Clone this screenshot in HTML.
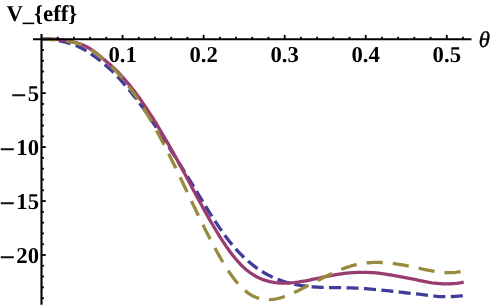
<!DOCTYPE html>
<html>
<head>
<meta charset="utf-8">
<title>V_eff plot</title>
<style>
html,body{margin:0;padding:0;background:#fff;}
body{width:491px;height:306px;overflow:hidden;}
svg{display:block;will-change:transform;}
.m{font-weight:normal;font-size:26.5px;stroke:#000;stroke-width:0.55px;}
text{text-rendering:geometricPrecision;font-family:"Liberation Serif",serif;font-weight:bold;font-size:22.7px;fill:#000;}
</style>
</head>
<body>
<svg width="491" height="306" viewBox="0 0 491 306">
<rect width="491" height="306" fill="#fff"/>
<g fill="none" stroke-width="3.3" stroke-linecap="butt" stroke-linejoin="round">
<path stroke="#3f3d99" stroke-dasharray="12.1 5.35" d="M41.50 39.20 L44.16 39.20 L46.81 39.29 L49.47 39.46 L52.12 39.72 L54.78 40.07 L57.43 40.50 L60.09 41.00 L62.74 41.57 L65.40 42.21 L68.05 42.91 L70.71 43.68 L73.36 44.55 L76.02 45.54 L78.67 46.67 L81.33 47.97 L83.99 49.43 L86.64 51.04 L89.30 52.77 L91.95 54.60 L94.61 56.52 L97.26 58.50 L99.92 60.56 L102.57 62.69 L105.23 64.91 L107.88 67.23 L110.54 69.65 L113.19 72.18 L115.85 74.83 L118.51 77.61 L121.16 80.55 L123.82 83.62 L126.47 86.81 L129.13 90.05 L131.78 93.32 L134.44 96.61 L137.09 99.98 L139.75 103.45 L142.40 107.06 L145.06 110.79 L147.71 114.61 L150.37 118.52 L153.02 122.48 L155.68 126.50 L158.34 130.56 L160.99 134.65 L163.65 138.78 L166.30 142.92 L168.96 147.08 L171.61 151.25 L174.27 155.43 L176.92 159.62 L179.58 163.83 L182.23 168.06 L184.89 172.31 L187.54 176.59 L190.20 180.90 L192.85 185.25 L195.51 189.61 L198.17 193.99 L200.82 198.36 L203.48 202.72 L206.13 207.04 L208.79 211.31 L211.44 215.53 L214.10 219.67 L216.75 223.72 L219.41 227.67 L222.06 231.50 L224.72 235.20 L227.37 238.75 L230.03 242.15 L232.68 245.38 L235.34 248.46 L238.00 251.38 L240.65 254.15 L243.31 256.77 L245.96 259.26 L248.62 261.60 L251.27 263.81 L253.93 265.89 L256.58 267.85 L259.24 269.68 L261.89 271.39 L264.55 272.99 L267.20 274.48 L269.86 275.86 L272.52 277.14 L275.17 278.32 L277.83 279.41 L280.48 280.41 L283.14 281.32 L285.79 282.15 L288.45 282.91 L291.10 283.58 L293.76 284.19 L296.41 284.73 L299.07 285.21 L301.72 285.64 L304.38 286.00 L307.03 286.32 L309.69 286.59 L312.35 286.82 L315.00 287.02 L317.66 287.17 L320.31 287.30 L322.97 287.40 L325.62 287.48 L328.28 287.55 L330.93 287.59 L333.59 287.63 L336.24 287.66 L338.90 287.69 L341.55 287.73 L344.21 287.77 L346.86 287.81 L349.52 287.88 L352.18 287.96 L354.83 288.06 L357.49 288.19 L360.14 288.33 L362.80 288.50 L365.45 288.68 L368.11 288.88 L370.76 289.10 L373.42 289.33 L376.07 289.58 L378.73 289.83 L381.38 290.10 L384.04 290.38 L386.69 290.66 L389.35 290.95 L392.01 291.25 L394.66 291.54 L397.32 291.84 L399.97 292.15 L402.63 292.45 L405.28 292.75 L407.94 293.04 L410.59 293.34 L413.25 293.62 L415.90 293.91 L418.56 294.19 L421.21 294.48 L423.87 294.77 L426.53 295.09 L429.18 295.42 L431.84 295.76 L434.49 296.09 L437.15 296.37 L439.80 296.57 L442.46 296.67 L445.11 296.68 L447.77 296.64 L450.42 296.56 L453.08 296.48 L455.73 296.37 L458.39 296.19 L461.04 295.96 L463.70 295.78"/>
<path stroke="#993d71" d="M41.50 39.20 L44.16 39.06 L46.81 38.99 L49.47 38.98 L52.12 39.04 L54.78 39.18 L57.43 39.39 L60.09 39.68 L62.74 40.03 L65.40 40.45 L68.05 40.93 L70.71 41.46 L73.36 42.05 L76.02 42.71 L78.67 43.47 L81.33 44.37 L83.99 45.45 L86.64 46.74 L89.30 48.24 L91.95 49.94 L94.61 51.83 L97.26 53.86 L99.92 56.00 L102.57 58.19 L105.23 60.43 L107.88 62.69 L110.54 65.02 L113.19 67.44 L115.85 70.00 L118.51 72.70 L121.16 75.53 L123.82 78.46 L126.47 81.50 L129.13 84.65 L131.78 87.93 L134.44 91.34 L137.09 94.89 L139.75 98.56 L142.40 102.35 L145.06 106.25 L147.71 110.24 L150.37 114.33 L153.02 118.50 L155.68 122.75 L158.34 127.09 L160.99 131.50 L163.65 135.99 L166.30 140.55 L168.96 145.17 L171.61 149.85 L174.27 154.60 L176.92 159.40 L179.58 164.25 L182.23 169.14 L184.89 174.08 L187.54 179.03 L190.20 184.00 L192.85 188.97 L195.51 193.93 L198.17 198.86 L200.82 203.76 L203.48 208.60 L206.13 213.39 L208.79 218.11 L211.44 222.75 L214.10 227.29 L216.75 231.72 L219.41 236.02 L222.06 240.19 L224.72 244.21 L227.37 248.07 L230.03 251.76 L232.68 255.25 L235.34 258.54 L238.00 261.62 L240.65 264.46 L243.31 267.07 L245.96 269.43 L248.62 271.57 L251.27 273.49 L253.93 275.20 L256.58 276.71 L259.24 278.03 L261.89 279.18 L264.55 280.16 L267.20 280.97 L269.86 281.64 L272.52 282.17 L275.17 282.58 L277.83 282.86 L280.48 283.03 L283.14 283.11 L285.79 283.10 L288.45 283.00 L291.10 282.82 L293.76 282.58 L296.41 282.27 L299.07 281.91 L301.72 281.49 L304.38 281.03 L307.03 280.54 L309.69 280.01 L312.35 279.47 L315.00 278.90 L317.66 278.33 L320.31 277.75 L322.97 277.18 L325.62 276.62 L328.28 276.07 L330.93 275.55 L333.59 275.06 L336.24 274.60 L338.90 274.19 L341.55 273.81 L344.21 273.48 L346.86 273.18 L349.52 272.93 L352.18 272.72 L354.83 272.56 L357.49 272.44 L360.14 272.36 L362.80 272.34 L365.45 272.36 L368.11 272.43 L370.76 272.55 L373.42 272.72 L376.07 272.94 L378.73 273.21 L381.38 273.53 L384.04 273.90 L386.69 274.31 L389.35 274.75 L392.01 275.21 L394.66 275.69 L397.32 276.17 L399.97 276.64 L402.63 277.10 L405.28 277.56 L407.94 278.04 L410.59 278.54 L413.25 279.09 L415.90 279.68 L418.56 280.29 L421.21 280.89 L423.87 281.45 L426.53 281.96 L429.18 282.41 L431.84 282.80 L434.49 283.12 L437.15 283.39 L439.80 283.60 L442.46 283.74 L445.11 283.82 L447.77 283.83 L450.42 283.76 L453.08 283.61 L455.73 283.37 L458.39 283.05 L461.04 282.63 L463.70 282.10"/>
<path stroke="#998b3d" stroke-dasharray="16.2 10.05" stroke-dashoffset="1.2" d="M41.50 39.20 L44.16 39.16 L46.81 39.17 L49.47 39.23 L52.12 39.35 L54.78 39.53 L57.43 39.77 L60.09 40.07 L62.74 40.44 L65.40 40.86 L68.05 41.33 L70.71 41.86 L73.36 42.44 L76.02 43.09 L78.67 43.84 L81.33 44.74 L83.99 45.81 L86.64 47.10 L89.30 48.61 L91.95 50.33 L94.61 52.24 L97.26 54.31 L99.92 56.49 L102.57 58.75 L105.23 61.06 L107.88 63.42 L110.54 65.86 L113.19 68.42 L115.85 71.13 L118.51 74.00 L121.16 77.03 L123.82 80.19 L126.47 83.47 L129.13 86.88 L131.78 90.45 L134.44 94.18 L137.09 98.07 L139.75 102.11 L142.40 106.28 L145.06 110.60 L147.71 115.03 L150.37 119.58 L153.02 124.25 L155.68 129.02 L158.34 133.90 L160.99 138.87 L163.65 143.95 L166.30 149.11 L168.96 154.35 L171.61 159.68 L174.27 165.08 L176.92 170.55 L179.58 176.06 L182.23 181.62 L184.89 187.20 L187.54 192.79 L190.20 198.38 L192.85 203.96 L195.51 209.51 L198.17 215.03 L200.82 220.49 L203.48 225.88 L206.13 231.20 L208.79 236.42 L211.44 241.54 L214.10 246.55 L216.75 251.42 L219.41 256.15 L222.06 260.73 L224.72 265.12 L227.37 269.32 L230.03 273.29 L232.68 277.02 L235.34 280.49 L238.00 283.66 L240.65 286.54 L243.31 289.11 L245.96 291.38 L248.62 293.36 L251.27 295.05 L253.93 296.45 L256.58 297.58 L259.24 298.45 L261.89 299.08 L264.55 299.47 L267.20 299.65 L269.86 299.63 L272.52 299.42 L275.17 299.04 L277.83 298.50 L280.48 297.82 L283.14 297.00 L285.79 296.07 L288.45 295.04 L291.10 293.92 L293.76 292.73 L296.41 291.47 L299.07 290.18 L301.72 288.85 L304.38 287.50 L307.03 286.13 L309.69 284.75 L312.35 283.36 L315.00 281.97 L317.66 280.59 L320.31 279.22 L322.97 277.87 L325.62 276.54 L328.28 275.23 L330.93 273.96 L333.59 272.73 L336.24 271.55 L338.90 270.41 L341.55 269.33 L344.21 268.32 L346.86 267.37 L349.52 266.49 L352.18 265.70 L354.83 264.98 L357.49 264.36 L360.14 263.83 L362.80 263.39 L365.45 263.04 L368.11 262.76 L370.76 262.57 L373.42 262.45 L376.07 262.40 L378.73 262.42 L381.38 262.50 L384.04 262.65 L386.69 262.84 L389.35 263.09 L392.01 263.39 L394.66 263.73 L397.32 264.11 L399.97 264.53 L402.63 264.98 L405.28 265.46 L407.94 265.97 L410.59 266.49 L413.25 267.04 L415.90 267.60 L418.56 268.17 L421.21 268.74 L423.87 269.32 L426.53 269.88 L429.18 270.42 L431.84 270.92 L434.49 271.39 L437.15 271.80 L439.80 272.15 L442.46 272.42 L445.11 272.62 L447.77 272.72 L450.42 272.72 L453.08 272.60 L455.73 272.36 L458.39 271.99 L461.04 271.48 L463.70 270.81"/>

</g>
<g stroke="#000" stroke-width="2.1" fill="none">
<line x1="33" y1="39.2" x2="471.5" y2="39.2"/>
<line x1="41.5" y1="34" x2="41.5" y2="304.7"/>
</g>
<g stroke="#000" stroke-width="1.8" fill="none">
<line x1="57.71" y1="39.2" x2="57.71" y2="36.80"/>
<line x1="73.92" y1="39.2" x2="73.92" y2="36.80"/>
<line x1="90.14" y1="39.2" x2="90.14" y2="36.80"/>
<line x1="106.35" y1="39.2" x2="106.35" y2="36.80"/>
<line x1="122.56" y1="39.2" x2="122.56" y2="34.90"/>
<line x1="138.77" y1="39.2" x2="138.77" y2="36.80"/>
<line x1="154.98" y1="39.2" x2="154.98" y2="36.80"/>
<line x1="171.20" y1="39.2" x2="171.20" y2="36.80"/>
<line x1="187.41" y1="39.2" x2="187.41" y2="36.80"/>
<line x1="203.62" y1="39.2" x2="203.62" y2="34.90"/>
<line x1="219.83" y1="39.2" x2="219.83" y2="36.80"/>
<line x1="236.04" y1="39.2" x2="236.04" y2="36.80"/>
<line x1="252.26" y1="39.2" x2="252.26" y2="36.80"/>
<line x1="268.47" y1="39.2" x2="268.47" y2="36.80"/>
<line x1="284.68" y1="39.2" x2="284.68" y2="34.90"/>
<line x1="300.89" y1="39.2" x2="300.89" y2="36.80"/>
<line x1="317.10" y1="39.2" x2="317.10" y2="36.80"/>
<line x1="333.32" y1="39.2" x2="333.32" y2="36.80"/>
<line x1="349.53" y1="39.2" x2="349.53" y2="36.80"/>
<line x1="365.74" y1="39.2" x2="365.74" y2="34.90"/>
<line x1="381.95" y1="39.2" x2="381.95" y2="36.80"/>
<line x1="398.16" y1="39.2" x2="398.16" y2="36.80"/>
<line x1="414.38" y1="39.2" x2="414.38" y2="36.80"/>
<line x1="430.59" y1="39.2" x2="430.59" y2="36.80"/>
<line x1="446.80" y1="39.2" x2="446.80" y2="34.90"/>
<line x1="463.01" y1="39.2" x2="463.01" y2="36.80"/>
<line x1="41.5" y1="49.99" x2="43.90" y2="49.99"/>
<line x1="41.5" y1="60.78" x2="43.90" y2="60.78"/>
<line x1="41.5" y1="71.57" x2="43.90" y2="71.57"/>
<line x1="41.5" y1="82.36" x2="43.90" y2="82.36"/>
<line x1="41.5" y1="93.15" x2="45.80" y2="93.15"/>
<line x1="41.5" y1="103.94" x2="43.90" y2="103.94"/>
<line x1="41.5" y1="114.73" x2="43.90" y2="114.73"/>
<line x1="41.5" y1="125.52" x2="43.90" y2="125.52"/>
<line x1="41.5" y1="136.31" x2="43.90" y2="136.31"/>
<line x1="41.5" y1="147.10" x2="45.80" y2="147.10"/>
<line x1="41.5" y1="157.89" x2="43.90" y2="157.89"/>
<line x1="41.5" y1="168.68" x2="43.90" y2="168.68"/>
<line x1="41.5" y1="179.47" x2="43.90" y2="179.47"/>
<line x1="41.5" y1="190.26" x2="43.90" y2="190.26"/>
<line x1="41.5" y1="201.05" x2="45.80" y2="201.05"/>
<line x1="41.5" y1="211.84" x2="43.90" y2="211.84"/>
<line x1="41.5" y1="222.63" x2="43.90" y2="222.63"/>
<line x1="41.5" y1="233.42" x2="43.90" y2="233.42"/>
<line x1="41.5" y1="244.21" x2="43.90" y2="244.21"/>
<line x1="41.5" y1="255.00" x2="45.80" y2="255.00"/>
<line x1="41.5" y1="265.79" x2="43.90" y2="265.79"/>
<line x1="41.5" y1="276.58" x2="43.90" y2="276.58"/>
<line x1="41.5" y1="287.37" x2="43.90" y2="287.37"/>
<line x1="41.5" y1="298.16" x2="43.90" y2="298.16"/>
</g>
<text x="6.4" y="21.3">V_{eff}</text>
<text x="122.6" y="62.3" text-anchor="middle">0.1</text>
<text x="203.6" y="62.3" text-anchor="middle">0.2</text>
<text x="284.7" y="62.3" text-anchor="middle">0.3</text>
<text x="365.7" y="62.3" text-anchor="middle">0.4</text>
<text x="446.8" y="62.3" text-anchor="middle">0.5</text>
<text x="39.0" y="101.1" text-anchor="end"><tspan class="m" dy="2.9">−</tspan><tspan dx="1.5" dy="-2.9">5</tspan></text>
<text x="39.0" y="155.0" text-anchor="end"><tspan class="m" dy="2.9">−</tspan><tspan dx="1.5" dy="-2.9">10</tspan></text>
<text x="39.0" y="209.0" text-anchor="end"><tspan class="m" dy="2.9">−</tspan><tspan dx="1.5" dy="-2.9">15</tspan></text>
<text x="39.0" y="262.9" text-anchor="end"><tspan class="m" dy="2.9">−</tspan><tspan dx="1.5" dy="-2.9">20</tspan></text>
<text x="478.8" y="47.4" style="font-style:italic;font-weight:normal;stroke:#000;stroke-width:0.45px">θ</text>
</svg>
</body>
</html>
